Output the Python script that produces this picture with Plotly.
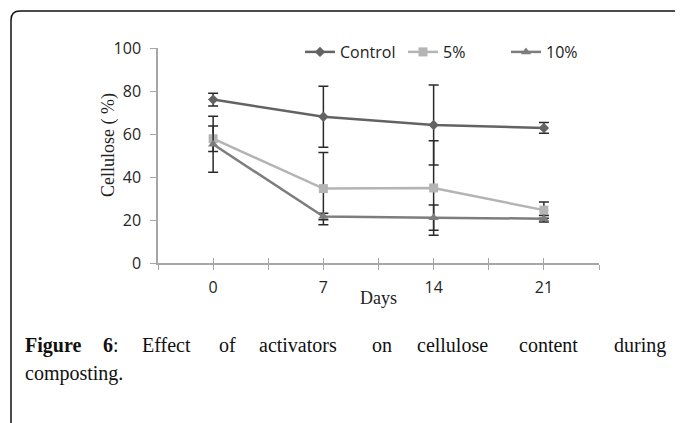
import numpy as np
import plotly.graph_objects as go

# ---- data ----
days = [0, 7, 14, 21]
day_labels = ["0", "7", "14", "21"]
control = [76.0, 68.0, 64.2, 62.8]
control_err = [3.0, 14.2, 18.6, 2.5]
pct5 = [57.8, 34.6, 34.9, 24.6]
pct5_err = [5.9, 16.8, 22.0, 3.8]
pct10 = [55.2, 21.6, 21.1, 20.6]
pct10_err = [13.0, 1.5, 5.9, 1.5]
series_names = ["Control", "5%", "10%"]

# page body has an 8px margin: figure is drawn at (8, 8) in the window
OX, OY = 8, 8
WIN_W, WIN_H = 683, 423
W, H = WIN_W - OX, WIN_H - OY
L, R, T, B = 158, 599, 48, 263  # plot area in window px


def px(x):
    return (x - L) / (R - L)


def py(y):
    return (B - y) / (B - T)


fig = go.Figure()

specs = [
    (series_names[0], control, control_err, "#636363", "diamond", 8),
    (series_names[1], pct5, pct5_err, "#b4b4b4", "square", 9),
    (series_names[2], pct10, pct10_err, "#7d7d7d", "triangle-up", 9),
]
for name, vals, err, col, sym, size in specs:
    fig.add_trace(go.Scatter(
        x=days, y=vals, name=name, mode="lines+markers",
        line=dict(color=col, width=2.5),
        marker=dict(symbol=sym, size=size, color=col),
        error_y=dict(type="data", array=err, visible=True,
                     color="#2a2a2a", thickness=1.5, width=5),
    ))

# empty trace to hold the overlay axis (inner half of crossing ticks)
fig.add_trace(go.Scatter(x=[], y=[], xaxis="x2", showlegend=False,
                         hoverinfo="skip"))

tick_pos = list(np.arange(-3.5, 24.6, 3.5))
tick_txt = [day_labels[days.index(int(v))] if float(v).is_integer() and int(v) in days else ""
            for v in tick_pos]

fig.update_layout(
    width=W, height=H,
    margin=dict(l=L - OX, r=W - (R - OX), t=T - OY, b=H - (B - OY)),
    paper_bgcolor="white", plot_bgcolor="white",
    font=dict(family="Open Sans", size=16, color="#262626"),
    xaxis=dict(
        range=[-3.5, 24.5], tickmode="array", tickvals=tick_pos, ticktext=tick_txt,
        ticks="outside", ticklen=5, tickwidth=1.2, tickcolor="#a6a6a6",
        showline=True, linecolor="#a6a6a6", linewidth=1.5,
        showgrid=False, zeroline=False, ticklabelstandoff=4,
    ),
    xaxis2=dict(
        range=[-3.5, 24.5], overlaying="x", side="bottom", anchor="y",
        tickmode="array", tickvals=tick_pos, showticklabels=False,
        ticks="inside", ticklen=5, tickwidth=1.2, tickcolor="#a6a6a6",
        showline=False, showgrid=False, zeroline=False,
    ),
    yaxis=dict(
        range=[0, 100], tickvals=[0, 20, 40, 60, 80, 100],
        ticks="outside", ticklen=6, tickwidth=1.2, tickcolor="#a6a6a6",
        showline=True, linecolor="#a6a6a6", linewidth=1.5,
        showgrid=False, zeroline=False, ticklabelstandoff=6,
    ),
    legend=dict(orientation="h", x=px(300), y=py(52), xanchor="left", yanchor="middle",
                font=dict(family="Open Sans", size=16, color="#222222"),
                bgcolor="rgba(0,0,0,0)", itemwidth=30, tracegroupgap=0,
                entrywidth=58, entrywidthmode="pixels"),
    showlegend=True,
)

# axis titles
title_font = dict(family="Liberation Serif", size=18, color="#222222")
fig.add_annotation(text="Cellulose ( %)", x=px(108), y=py(145), xref="paper", yref="paper",
                   textangle=-90, xanchor="center", yanchor="middle", showarrow=False,
                   font=title_font)
fig.add_annotation(text="Days", x=px(378), y=py(298), xref="paper", yref="paper",
                   xanchor="center", yanchor="middle", showarrow=False, font=title_font)

# page frame (rounded top-left corner)
fig.add_shape(type="path", xref="paper", yref="paper",
              path=(f"M {px(11)},{py(423)} L {px(11)},{py(20)} "
                    f"Q {px(11)},{py(11)} {px(20)},{py(11)} L {px(683)},{py(11)}"),
              line=dict(color="#111111", width=1.5))

# caption (justified first line)
cap_font = dict(family="Liberation Serif", size=20, color="#111111")
line1 = [("<b>Figure</b>", 23), ("<b>6</b>:", 101), ("Effect", 140), ("of", 217),
         ("activators", 257), ("on", 370), ("cellulose", 415), ("content", 517),
         ("during", 612)]
for txt, x0 in line1:
    fig.add_annotation(text=txt, x=px(x0), y=py(345), xref="paper", yref="paper",
                       xanchor="left", yanchor="middle", showarrow=False, font=cap_font)
fig.add_annotation(text="composting.", x=px(23), y=py(373), xref="paper", yref="paper",
                   xanchor="left", yanchor="middle", showarrow=False, font=cap_font)

fig.write_html("out.html")
